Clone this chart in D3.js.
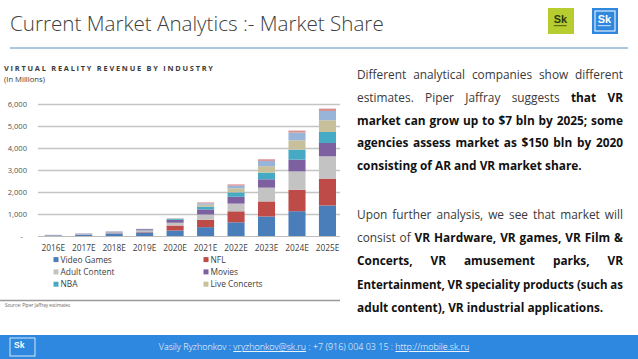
<!DOCTYPE html>
<html><head><meta charset="utf-8">
<script src="https://cdn.jsdelivr.net/npm/d3@7"></script>
<style>
html,body{margin:0;padding:0;background:#fff;}
svg{display:block;}
</style></head><body>
<script>
// ---------------- DATA ----------------
const years = ["2016E","2017E","2018E","2019E","2020E","2021E","2022E","2023E","2024E","2025E"];
const seriesNames = ["Video Games","NFL","Adult Content","Movies","NBA","Live Concerts","MLB","NHL"];
const legendNames = ["Video Games","NFL","Adult Content","Movies","NBA","Live Concerts"];
const videoGames = [50, 90, 140, 180, 275, 425, 645, 910, 1150, 1410];
const nfl        = [3, 5, 8, 20, 225, 335, 500, 685, 975, 1220];
const adult      = [12, 25, 45, 80, 125, 240, 350, 625, 835, 1015];
const movies     = [6, 12, 25, 50, 125, 230, 310, 380, 535, 605];
const nba        = [2, 3, 5, 10, 40, 130, 200, 305, 455, 500];
const concerts   = [1, 2, 3, 5, 25, 85, 185, 290, 425, 535];
const mlb        = [1, 2, 2, 3, 15, 65, 120, 240, 350, 420];
const nhl        = [0, 1, 1, 2, 5, 40, 60, 75, 90, 110];
const yTicks = [0, 1000, 2000, 3000, 4000, 5000, 6000];
const seriesColors = ["#4a7ebb","#be4b48","#c3c3c3","#7d60a0","#46aac5","#c8c09a","#98b4d8","#d9918f"];

// ---------------- SETUP ----------------
const W = 638, H = 359;
const svg = d3.select("body").append("svg").attr("width", W).attr("height", H);
const FONT = "'Open Sans','Noto Sans',sans-serif";

function fitWidth(sel, base, target) {
  const w = sel.node().getComputedTextLength();
  sel.attr("font-size", base * target / w);
}

// Title
const title = svg.append("text").attr("x", 10).attr("y", 31)
  .attr("font-family", FONT).attr("font-weight", 300).attr("font-size", 24)
  .attr("fill", "#404040").text("Current Market Analytics :- Market Share");
fitWidth(title, 24, 374);
svg.append("line").attr("x1", 10).attr("x2", 628).attr("y1", 48).attr("y2", 48)
  .attr("stroke", "#5a8fb8").attr("stroke-width", 1);

// Logos
function logo(x, y, s, fill, fg, border) {
  const g = svg.append("g").attr("transform", `translate(${x},${y})`);
  g.append("rect").attr("width", s).attr("height", s).attr("fill", fill);
  if (border) g.append("rect").attr("x", 3).attr("y", 3).attr("width", s - 6).attr("height", s - 6)
      .attr("fill", "none").attr("stroke", "#fff").attr("stroke-width", 1);
  g.append("text").attr("x", s * 0.22).attr("y", s * 0.58).attr("font-family", "Arial, sans-serif")
    .attr("font-weight", "bold").attr("font-size", s * 0.42).attr("fill", fg).text("Sk");
  g.append("line").attr("x1", s * 0.22).attr("x2", s * 0.72).attr("y1", s * 0.68).attr("y2", s * 0.68)
    .attr("stroke", fg).attr("stroke-width", 0.8);
}
logo(548, 8, 26, "#b7cc2f", "#2b3a10", false);
logo(592, 8, 26, "#2f88de", "#fff", true);

// ---------------- CHART ----------------
const ct = svg.append("text").attr("x", 4).attr("y", 70.5).attr("font-family", FONT).attr("font-weight", "bold")
  .attr("font-size", 7.4).attr("fill", "#3a3a3a")
  .text("VIRTUAL REALITY REVENUE BY INDUSTRY");
{
  const s = "VIRTUAL REALITY REVENUE BY INDUSTRY";
  const w = ct.node().getComputedTextLength();
  ct.attr("letter-spacing", (209 - w) / (s.length - 1));
}
const im = svg.append("text").attr("x", 4).attr("y", 81.5).attr("font-family", FONT)
  .attr("font-size", 7.5).attr("fill", "#3a3a3a").text("(In Millions)");
fitWidth(im, 7.5, 41);

const x = d3.scaleBand().domain(years).range([38, 342.7]).paddingInner(0.44).paddingOuter(0.22);
const y = d3.scaleLinear().domain([0, 6000]).range([236.5, 104.5]);

// gridlines
svg.append("g").selectAll("line").data(yTicks.filter(d => d > 0)).join("line")
  .attr("x1", 38).attr("x2", 340).attr("y1", d => y(d)).attr("y2", d => y(d))
  .attr("stroke", "#c4c4c4").attr("stroke-width", 1.3);

// y labels
svg.append("g").selectAll("text").data(yTicks).join("text")
  .attr("x", d => d === 0 ? 23 : 27).attr("y", d => y(d) + 2.8)
  .attr("text-anchor", "end").attr("font-family", FONT).attr("font-size", 7.6)
  .attr("fill", "#555").text(d => d === 0 ? "-" : d3.format(",")(d));

// stacked bars
const seriesData = [videoGames, nfl, adult, movies, nba, concerts, mlb, nhl];
const table = years.map((yr, i) => {
  const row = { year: yr };
  seriesNames.forEach((n, j) => row[n] = seriesData[j][i]);
  return row;
});
const stack = d3.stack().keys(seriesNames)(table);
svg.append("g").selectAll("g").data(stack).join("g")
  .attr("fill", (d, i) => seriesColors[i])
  .selectAll("rect").data(d => d).join("rect")
  .attr("x", d => x(d.data.year)).attr("width", x.bandwidth())
  .attr("y", d => y(d[1])).attr("height", d => Math.max(0, y(d[0]) - y(d[1])));

// baseline axis
svg.append("line").attr("x1", 38).attr("x2", 340).attr("y1", y(0)).attr("y2", y(0))
  .attr("stroke", "#bdbdbd").attr("stroke-width", 1.2);

// x labels
svg.append("g").selectAll("text").data(years).join("text")
  .attr("x", d => x(d) + x.bandwidth() / 2).attr("y", 251.2)
  .attr("text-anchor", "middle").attr("font-family", FONT).attr("font-size", 8.3)
  .attr("fill", "#404040").text(d => d);

// legend
const legend = svg.append("g").selectAll("g").data(legendNames).join("g")
  .attr("transform", (d, i) => `translate(${i % 2 === 0 ? 53.5 : 203.5},${259.6 + Math.floor(i / 2) * 12.3})`);
legend.append("rect").attr("x", 0).attr("y", -2.5).attr("width", 5).attr("height", 5)
  .attr("fill", d => seriesColors[seriesNames.indexOf(d)]);
legend.append("text").attr("x", 7).attr("y", 3.1).attr("font-family", FONT).attr("font-size", 8.4)
  .attr("fill", "#404040").text(d => d);

// separator + source
svg.append("line").attr("x1", 0).attr("x2", 340).attr("y1", 300.5).attr("y2", 300.5)
  .attr("stroke", "#9a9a9a").attr("stroke-width", 1.6);
svg.append("text").attr("x", 5).attr("y", 307).attr("font-family", FONT).attr("font-size", 4.6)
  .attr("fill", "#666").text("Source: Piper Jaffray estimates");

// ---------------- RIGHT TEXT ----------------
const para1 = [
  [["Different analytical companies show different", false]],
  [["estimates. Piper Jaffray suggests", false], ["that VR", true]],
  [["market can grow up to $7 bln by 2025; some", true]],
  [["agencies assess market as $150 bln by 2020", true]],
  [["consisting of AR and VR market share.", true]]
];
const para2 = [
  [["Upon further analysis, we see that market will", false]],
  [["consist of", false], ["VR Hardware, VR games, VR Film &", true]],
  [["Concerts, VR amusement parks, VR", true]],
  [["Entertainment, VR speciality products (such as", true]],
  [["adult content), VR industrial applications.", true]]
];
const TX = 357, TW = 266, BOLDW = "bold";
const probe = svg.append("text").attr("font-family", FONT).attr("font-weight", BOLDW).attr("font-size", 100)
  .text("consisting of AR and VR market share.");
const FS = 100 * 225 / probe.node().getComputedTextLength();
probe.remove();
function measure(t, bold) {
  const e = svg.append("text").attr("font-family", FONT).attr("font-size", FS)
    .attr("font-weight", bold ? BOLDW : "normal").text(t);
  const w = e.node().getComputedTextLength(); e.remove(); return w;
}
const SPACE = measure("a a", false) - 2 * measure("a", false);
function drawPara(lines, y0, lh) {
  lines.forEach((segs, li) => {
    const words = [];
    segs.forEach(([t, b]) => t.split(" ").forEach(w => words.push({ w, b, len: measure(w, b) })));
    const total = d3.sum(words, d => d.len);
    const last = li === lines.length - 1;
    const minGap = SPACE * 0.95;
    let sx = 1, gap;
    if (last) { gap = SPACE; }
    else {
      gap = (TW - total) / (words.length - 1);
      if (gap < minGap) { sx = (TW - minGap * (words.length - 1)) / total; gap = minGap; }
    }
    const t = svg.append("text").attr("font-family", FONT).attr("font-size", FS)
      .attr("transform", `translate(${TX},${y0 + li * lh}) scale(${sx},1)`);
    let cx = 0;
    words.forEach(d => {
      t.append("tspan").attr("x", cx).attr("font-weight", d.b ? BOLDW : "normal")
        .attr("fill", d.b ? "#111" : "#3a3a3a").text(d.w);
      cx += d.len + gap / sx;
    });
  });
}
drawPara(para1, 79, 22.8);
drawPara(para2, 218.5, 23.4);

// ---------------- FOOTER ----------------
svg.append("rect").attr("x", 0).attr("y", 335).attr("width", W).attr("height", H - 335).attr("fill", "#2f88e0");
const fl = svg.append("g").attr("transform", "translate(10,338)");
fl.append("rect").attr("width", 25).attr("height", 18).attr("fill", "none").attr("stroke", "#fff").attr("stroke-width", 0.8);
fl.append("text").attr("x", 4).attr("y", 10).attr("font-family", "Arial, sans-serif").attr("font-weight", "bold")
  .attr("font-size", 8.5).attr("fill", "#fff").text("Sk");
const ft = svg.append("text").attr("x", 314).attr("y", 350).attr("text-anchor", "middle")
  .attr("font-family", FONT).attr("font-weight", 300).attr("font-size", 8.5).attr("fill", "#fff");
ft.append("tspan").text("Vasily Ryzhonkov : ");
ft.append("tspan").attr("text-decoration", "underline").text("vryzhonkov@sk.ru");
ft.append("tspan").text(" : +7 (916) 004 03 15 : ");
ft.append("tspan").attr("text-decoration", "underline").text("http://mobile.sk.ru");
fitWidth(ft, 8.5, 311);
</script>
</body></html>
